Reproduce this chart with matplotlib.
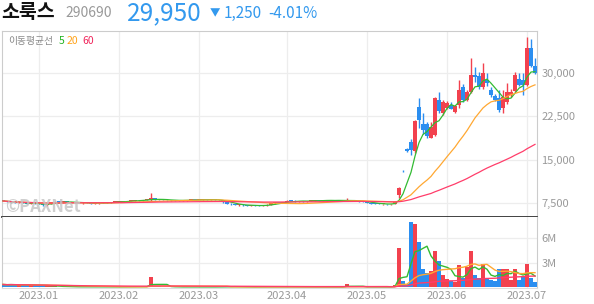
import numpy as np
import pandas as pd
import matplotlib
matplotlib.use('Agg')
import matplotlib.pyplot as plt

plt.rcParams['font.family'] = ['Noto Sans CJK KR', 'DejaVu Sans']

# 일봉 데이터 (2022.12 중순 ~ 2023.07.05), 월별로 나눠서 기록
opens = [7900, 7800, 7700, 7550, 7450, 7550, 7450, 7350, 7400,
         7300, 7250, 7050, 7300, 7550, 7700, 7600, 7650, 7600, 7550, 7500, 7450, 7500, 7450, 7350, 7400, 7450, 7500, 7550, 7600,
         7650, 7700, 7750, 7800, 7850, 7950, 7900, 8000, 7900, 8250, 8100, 8000, 7950, 7900, 7950, 7900, 7850, 7900, 7950, 8000,
         7950, 8000, 8050, 8000, 8050, 8000, 7900, 7550, 7350, 7200, 7100, 7150, 7050, 7000, 7050, 7000, 6950, 7050, 7150, 7400, 7550, 7500,
         7600, 7850, 7800, 7750, 7800, 7750, 7800, 7850, 7900, 7850, 7900, 7950, 7900, 7850, 7900, 7850, 7950, 7850, 7800, 7700,
         7600, 7450, 7350, 7300, 7250, 7300, 7200, 7300, 8900, 13050, 16900, 18000, 16400, 24100, 21200, 21100, 18800, 19300, 25300, 23000,
         23950, 24500, 23300, 24400, 27600, 25300, 26750, 29750, 29450, 27600, 28800, 27150, 26000, 25600, 23950, 25000, 26150, 26850, 29050, 28800,
         27900, 34300, 31300]
highs = [7950, 7850, 7750, 7600, 7600, 7600, 7500, 7450, 7450,
         7400, 7300, 7350, 7600, 7750, 7800, 7700, 7750, 7700, 7650, 7600, 7550, 7600, 7500, 7450, 7500, 7550, 7600, 7650, 7700,
         7750, 7800, 7850, 7900, 8000, 8050, 8050, 8100, 9200, 8400, 8200, 8100, 8050, 8000, 8000, 7950, 7950, 8000, 8050, 8050,
         8050, 8100, 8100, 8100, 8100, 8050, 7950, 7600, 7400, 7300, 7200, 7200, 7150, 7100, 7150, 7100, 7100, 7200, 7450, 7600, 7650, 7650,
         7900, 7950, 7900, 7850, 7850, 7850, 7900, 7950, 7950, 7950, 8000, 8000, 7950, 7950, 7950, 8300, 8000, 7900, 7850, 7750,
         7650, 7500, 7450, 7400, 7350, 7350, 7350, 7800, 10300, 13100, 17000, 18500, 21900, 25600, 23000, 21500, 21500, 25800, 26700, 25300,
         25200, 25000, 24500, 28800, 28100, 27000, 32550, 31000, 30150, 31700, 29950, 27550, 26300, 27050, 27000, 28200, 27200, 30250, 29950, 30050,
         36250, 35900, 32700]
lows = [7750, 7650, 7500, 7400, 7400, 7400, 7300, 7300, 7250,
        7200, 7000, 7000, 7250, 7500, 7550, 7500, 7550, 7500, 7450, 7400, 7350, 7400, 7300, 7250, 7350, 7400, 7450, 7500, 7550,
        7600, 7650, 7700, 7750, 7800, 7850, 7850, 7900, 7850, 8050, 7950, 7900, 7850, 7850, 7850, 7800, 7800, 7850, 7900, 7900,
        7900, 7950, 7950, 7950, 7950, 7850, 7500, 7300, 7150, 7050, 7000, 7000, 6950, 6900, 6950, 6900, 6900, 7000, 7100, 7350, 7450, 7450,
        7550, 7750, 7700, 7700, 7700, 7700, 7750, 7800, 7800, 7800, 7850, 7850, 7800, 7800, 7800, 7800, 7800, 7750, 7650, 7550,
        7400, 7300, 7250, 7200, 7150, 7150, 7150, 7250, 8400, 12900, 16300, 15800, 16200, 20400, 19500, 18800, 18700, 19100, 23000, 22800,
        23700, 23700, 23100, 24000, 25000, 25100, 26500, 28400, 27200, 27300, 27800, 25900, 25100, 23300, 23050, 24700, 25900, 26800, 27700, 26150,
        27700, 31000, 29800]
closes = [7800, 7700, 7550, 7450, 7550, 7450, 7350, 7400, 7300,
          7250, 7050, 7300, 7550, 7700, 7600, 7650, 7600, 7550, 7500, 7450, 7500, 7450, 7350, 7400, 7450, 7500, 7550, 7600, 7650,
          7700, 7750, 7800, 7850, 7950, 7900, 8000, 8050, 8250, 8100, 8000, 7950, 7900, 7950, 7900, 7850, 7900, 7950, 8000, 7950,
          8000, 8050, 8000, 8050, 8000, 7900, 7550, 7350, 7200, 7100, 7150, 7050, 7000, 7050, 7000, 6950, 7050, 7150, 7400, 7550, 7500, 7600,
          7850, 7800, 7750, 7800, 7750, 7800, 7850, 7900, 7850, 7900, 7950, 7900, 7850, 7900, 7850, 7950, 7850, 7800, 7700, 7600,
          7450, 7350, 7300, 7250, 7300, 7200, 7300, 7700, 10050, 12950, 16500, 16700, 21700, 21800, 20050, 19000, 20600, 25600, 23400, 25000,
          24800, 23850, 24300, 27050, 25300, 26750, 29650, 29350, 27600, 29950, 28200, 26150, 25300, 23650, 25850, 26750, 26750, 29650, 27900, 27900,
          34300, 31200, 29950]
# 거래량 (백만주)
volumes = [0.35, 0.30, 0.35, 0.30, 0.25, 0.30, 0.25, 0.30, 0.25,
           0.20, 0.25, 0.15, 0.15, 0.12, 0.10, 0.08, 0.08, 0.07, 0.07, 0.06, 0.07, 0.06, 0.08, 0.07, 0.06, 0.06, 0.07, 0.06, 0.07,
           0.06, 0.07, 0.07, 0.08, 0.08, 0.08, 0.09, 0.10, 1.30, 0.20, 0.12, 0.08, 0.07, 0.06, 0.06, 0.06, 0.05, 0.06, 0.06, 0.06,
           0.06, 0.06, 0.05, 0.05, 0.06, 0.06, 0.10, 0.10, 0.08, 0.07, 0.06, 0.06, 0.06, 0.06, 0.05, 0.06, 0.06, 0.07, 0.08, 0.08, 0.07, 0.07,
           0.08, 0.07, 0.06, 0.06, 0.05, 0.05, 0.06, 0.06, 0.05, 0.05, 0.06, 0.05, 0.05, 0.05, 0.05, 0.40, 0.08, 0.06, 0.06, 0.06,
           0.07, 0.06, 0.06, 0.05, 0.05, 0.06, 0.08, 0.30, 4.85, 0.80, 0.45, 8.00, 7.70, 5.50, 2.20, 1.75, 2.05, 4.50, 3.20, 1.50,
           1.00, 0.80, 0.60, 2.70, 1.15, 2.50, 4.50, 1.55, 1.20, 2.80, 1.00, 0.95, 0.75, 2.25, 2.30, 2.20, 0.85, 2.30, 0.85, 1.35,
           2.90, 1.20, 0.60]

month_pos = [9, 29, 49, 71, 91, 111, 131]
month_labels = ['2023.01', '2023.02', '2023.03', '2023.04', '2023.05', '2023.06', '2023.07']
price_ticks = [7500, 15000, 22500, 30000]
price_labels = ['7,500', '15,000', '22,500', '30,000']
vol_ticks = [3e6, 6e6]
vol_labels = ['3M', '6M']
ma_windows = [5, 20, 60]

UP = '#f2414e'
DOWN = '#2b8ef0'
MA_COLORS = ['#33bb33', '#ffa832', '#ff3d6a']
GRID = '#ededed'
TXT = '#999999'

df = pd.DataFrame({'open': opens, 'high': highs, 'low': lows, 'close': closes,
                   'vol': np.array(volumes) * 1e6})
x = np.arange(len(df))
up = df['close'] >= df['open']
colors = np.where(up, UP, DOWN)

W, H = 594, 304
fig = plt.figure(figsize=(W / 100, H / 100), dpi=100)


def fx(px):
    return px / W


def fy(py):
    return 1 - py / H


ax1 = fig.add_axes([fx(2), fy(217), fx(535), 186 / H])
ax2 = fig.add_axes([fx(2), fy(288), fx(535), 71 / H], sharex=ax1)

# 캔들
body_bot = np.minimum(df['open'], df['close'])
body_h = np.maximum(np.abs(df['close'] - df['open']), 120)
ax1.vlines(x, df['low'], df['high'], colors=colors, linewidth=1, zorder=3)
ax1.bar(x, body_h, bottom=body_bot, width=0.8, color=colors, linewidth=0, zorder=3)

# 이동평균선
for w, c in zip(ma_windows, MA_COLORS):
    ax1.plot(x, df['close'].rolling(w, min_periods=1).mean(), color=c, lw=0.9, zorder=4)
    ax2.plot(x, df['vol'].rolling(w, min_periods=1).mean(), color=c, lw=1.0, zorder=4)

# 거래량
ax2.bar(x, df['vol'], width=0.8, color=colors, linewidth=0, zorder=3)

ax1.set_xlim(-0.25, 133.5)
ax1.set_ylim(5018, 37310)
ax2.set_ylim(-0.08e6, 8.6e6)

for ax in (ax1, ax2):
    for m in month_pos:
        ax.axvline(m, color=GRID, lw=0.9, zorder=0)
    for s in ('left', 'right', 'top'):
        ax.spines[s].set_color('#cccccc')
        ax.spines[s].set_linewidth(0.8)
    ax.yaxis.tick_right()
    ax.tick_params(axis='y', length=0, labelsize=8, labelcolor=TXT, pad=3)
    ax.tick_params(axis='x', length=0)

for t in price_ticks:
    ax1.axhline(t, color=GRID, lw=0.9, zorder=0)
for t in vol_ticks:
    ax2.axhline(t, color=GRID, lw=0.9, zorder=0)

ax1.set_yticks(price_ticks)
ax1.set_yticklabels(price_labels)
ax1.spines['bottom'].set_color('#333333')
ax1.spines['bottom'].set_linewidth(1.3)
ax1.tick_params(axis='x', labelbottom=False)

ax2.set_yticks(vol_ticks)
ax2.set_yticklabels(vol_labels)
ax2.spines['top'].set_visible(False)
ax2.spines['bottom'].set_color('#dddddd')
ax2.set_xticks(month_pos)
ax2.set_xticklabels(month_labels, fontsize=8, color=TXT)
ax2.tick_params(axis='x', pad=2)

# 워터마크
ax1.text(0.006, 0.008, '©PAXNet', transform=ax1.transAxes, fontsize=12, fontweight='bold',
         color='#c4c4c4', alpha=0.8, ha='left', va='bottom', zorder=5)

# 이동평균 범례
fig.text(fx(8), fy(41), '이동평균선', fontsize=7, color='#888888', va='center')
fig.text(fx(59), fy(41), '5', fontsize=7.5, color='#22b322', va='center')
fig.text(fx(67), fy(41), '20', fontsize=7.5, color='#ffa31a', va='center')
fig.text(fx(82), fy(41), '60', fontsize=7.5, color='#f0245a', va='center')

# 상단 종목 정보
fig.text(fx(1), fy(12), '소룩스', fontsize=14, fontweight='bold', color='#111111', va='center')
fig.text(fx(65), fy(13), '290690', fontsize=10, color='#999999', va='center')
fig.text(fx(127), fy(13), '29,950', fontsize=17.5, color='#3399ee', va='center')
fig.text(fx(210), fy(13), '▼', fontsize=7.5, color='#3399ee', va='center')
fig.text(fx(224), fy(13), '1,250', fontsize=11, color='#3399ee', va='center')
fig.text(fx(268), fy(13), '-4.01%', fontsize=11, color='#3399ee', va='center')

fig.savefig('out.png', dpi=100)
